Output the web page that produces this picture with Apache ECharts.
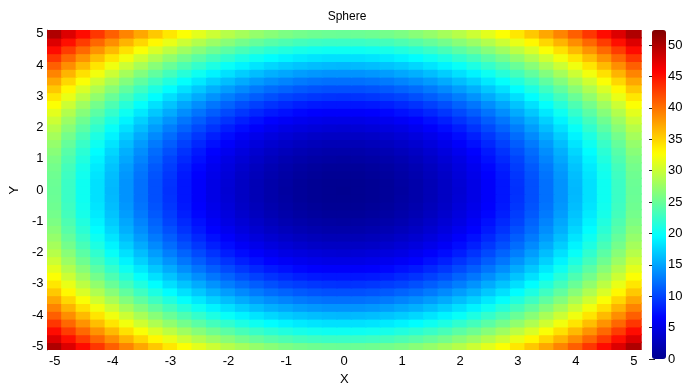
<!DOCTYPE html>
<html>
<head>
<meta charset="utf-8">
<script src="https://cdn.jsdelivr.net/npm/echarts@6/dist/echarts.min.js"></script>
<style>
  html, body { margin: 0; padding: 0; background: #fff; }
  #chart { width: 697px; height: 391px; }
</style>
</head>
<body>
<div id="chart"></div>
<script>
// cell centres along each axis (step 0.25, cells span -5.125 .. 5.125)
const xCats = ['-5','-4.75','-4.5','-4.25','-4','-3.75','-3.5','-3.25','-3','-2.75','-2.5','-2.25','-2','-1.75','-1.5','-1.25','-1','-0.75','-0.5','-0.25','0',
  '0.25','0.5','0.75','1','1.25','1.5','1.75','2','2.25','2.5','2.75','3','3.25','3.5','3.75','4','4.25','4.5','4.75','5'];
const yCats = xCats.slice();

// colorbar ticks
const barTicks = [0, 5, 10, 15, 20, 25, 30, 35, 40, 45, 50];
const zMin = 0;
const zMax = 52.4;

// surface values, row 0 = bottom (y = -5)
const zGrid = [
  [50,47.6,45.3,43.1,41,39.1,37.3,35.6,34,32.6,31.3,30.1,29,28.1,27.3,26.6,26,25.6,25.3,25.1,25,25.1,25.3,25.6,26,26.6,27.3,28.1,29,30.1,31.3,32.6,34,35.6,37.3,39.1,41,43.1,45.3,47.6,50],
  [47.6,45.1,42.8,40.6,38.6,36.6,34.8,33.1,31.6,30.1,28.8,27.6,26.6,25.6,24.8,24.1,23.6,23.1,22.8,22.6,22.6,22.6,22.8,23.1,23.6,24.1,24.8,25.6,26.6,27.6,28.8,30.1,31.6,33.1,34.8,36.6,38.6,40.6,42.8,45.1,47.6],
  [45.3,42.8,40.5,38.3,36.3,34.3,32.5,30.8,29.3,27.8,26.5,25.3,24.3,23.3,22.5,21.8,21.3,20.8,20.5,20.3,20.3,20.3,20.5,20.8,21.3,21.8,22.5,23.3,24.3,25.3,26.5,27.8,29.3,30.8,32.5,34.3,36.3,38.3,40.5,42.8,45.3],
  [43.1,40.6,38.3,36.1,34.1,32.1,30.3,28.6,27.1,25.6,24.3,23.1,22.1,21.1,20.3,19.6,19.1,18.6,18.3,18.1,18.1,18.1,18.3,18.6,19.1,19.6,20.3,21.1,22.1,23.1,24.3,25.6,27.1,28.6,30.3,32.1,34.1,36.1,38.3,40.6,43.1],
  [41,38.6,36.3,34.1,32,30.1,28.3,26.6,25,23.6,22.3,21.1,20,19.1,18.3,17.6,17,16.6,16.3,16.1,16,16.1,16.3,16.6,17,17.6,18.3,19.1,20,21.1,22.3,23.6,25,26.6,28.3,30.1,32,34.1,36.3,38.6,41],
  [39.1,36.6,34.3,32.1,30.1,28.1,26.3,24.6,23.1,21.6,20.3,19.1,18.1,17.1,16.3,15.6,15.1,14.6,14.3,14.1,14.1,14.1,14.3,14.6,15.1,15.6,16.3,17.1,18.1,19.1,20.3,21.6,23.1,24.6,26.3,28.1,30.1,32.1,34.3,36.6,39.1],
  [37.3,34.8,32.5,30.3,28.3,26.3,24.5,22.8,21.3,19.8,18.5,17.3,16.3,15.3,14.5,13.8,13.3,12.8,12.5,12.3,12.3,12.3,12.5,12.8,13.3,13.8,14.5,15.3,16.3,17.3,18.5,19.8,21.3,22.8,24.5,26.3,28.3,30.3,32.5,34.8,37.3],
  [35.6,33.1,30.8,28.6,26.6,24.6,22.8,21.1,19.6,18.1,16.8,15.6,14.6,13.6,12.8,12.1,11.6,11.1,10.8,10.6,10.6,10.6,10.8,11.1,11.6,12.1,12.8,13.6,14.6,15.6,16.8,18.1,19.6,21.1,22.8,24.6,26.6,28.6,30.8,33.1,35.6],
  [34,31.6,29.3,27.1,25,23.1,21.3,19.6,18,16.6,15.3,14.1,13,12.1,11.3,10.6,10,9.6,9.3,9.1,9,9.1,9.3,9.6,10,10.6,11.3,12.1,13,14.1,15.3,16.6,18,19.6,21.3,23.1,25,27.1,29.3,31.6,34],
  [32.6,30.1,27.8,25.6,23.6,21.6,19.8,18.1,16.6,15.1,13.8,12.6,11.6,10.6,9.8,9.1,8.6,8.1,7.8,7.6,7.6,7.6,7.8,8.1,8.6,9.1,9.8,10.6,11.6,12.6,13.8,15.1,16.6,18.1,19.8,21.6,23.6,25.6,27.8,30.1,32.6],
  [31.3,28.8,26.5,24.3,22.3,20.3,18.5,16.8,15.3,13.8,12.5,11.3,10.3,9.3,8.5,7.8,7.3,6.8,6.5,6.3,6.3,6.3,6.5,6.8,7.3,7.8,8.5,9.3,10.3,11.3,12.5,13.8,15.3,16.8,18.5,20.3,22.3,24.3,26.5,28.8,31.3],
  [30.1,27.6,25.3,23.1,21.1,19.1,17.3,15.6,14.1,12.6,11.3,10.1,9.1,8.1,7.3,6.6,6.1,5.6,5.3,5.1,5.1,5.1,5.3,5.6,6.1,6.6,7.3,8.1,9.1,10.1,11.3,12.6,14.1,15.6,17.3,19.1,21.1,23.1,25.3,27.6,30.1],
  [29,26.6,24.3,22.1,20,18.1,16.3,14.6,13,11.6,10.3,9.1,8,7.1,6.3,5.6,5,4.6,4.3,4.1,4,4.1,4.3,4.6,5,5.6,6.3,7.1,8,9.1,10.3,11.6,13,14.6,16.3,18.1,20,22.1,24.3,26.6,29],
  [28.1,25.6,23.3,21.1,19.1,17.1,15.3,13.6,12.1,10.6,9.3,8.1,7.1,6.1,5.3,4.6,4.1,3.6,3.3,3.1,3.1,3.1,3.3,3.6,4.1,4.6,5.3,6.1,7.1,8.1,9.3,10.6,12.1,13.6,15.3,17.1,19.1,21.1,23.3,25.6,28.1],
  [27.3,24.8,22.5,20.3,18.3,16.3,14.5,12.8,11.3,9.8,8.5,7.3,6.3,5.3,4.5,3.8,3.3,2.8,2.5,2.3,2.3,2.3,2.5,2.8,3.3,3.8,4.5,5.3,6.3,7.3,8.5,9.8,11.3,12.8,14.5,16.3,18.3,20.3,22.5,24.8,27.3],
  [26.6,24.1,21.8,19.6,17.6,15.6,13.8,12.1,10.6,9.1,7.8,6.6,5.6,4.6,3.8,3.1,2.6,2.1,1.8,1.6,1.6,1.6,1.8,2.1,2.6,3.1,3.8,4.6,5.6,6.6,7.8,9.1,10.6,12.1,13.8,15.6,17.6,19.6,21.8,24.1,26.6],
  [26,23.6,21.3,19.1,17,15.1,13.3,11.6,10,8.6,7.3,6.1,5,4.1,3.3,2.6,2,1.6,1.3,1.1,1,1.1,1.3,1.6,2,2.6,3.3,4.1,5,6.1,7.3,8.6,10,11.6,13.3,15.1,17,19.1,21.3,23.6,26],
  [25.6,23.1,20.8,18.6,16.6,14.6,12.8,11.1,9.6,8.1,6.8,5.6,4.6,3.6,2.8,2.1,1.6,1.1,0.8,0.6,0.6,0.6,0.8,1.1,1.6,2.1,2.8,3.6,4.6,5.6,6.8,8.1,9.6,11.1,12.8,14.6,16.6,18.6,20.8,23.1,25.6],
  [25.3,22.8,20.5,18.3,16.3,14.3,12.5,10.8,9.3,7.8,6.5,5.3,4.3,3.3,2.5,1.8,1.3,0.8,0.5,0.3,0.3,0.3,0.5,0.8,1.3,1.8,2.5,3.3,4.3,5.3,6.5,7.8,9.3,10.8,12.5,14.3,16.3,18.3,20.5,22.8,25.3],
  [25.1,22.6,20.3,18.1,16.1,14.1,12.3,10.6,9.1,7.6,6.3,5.1,4.1,3.1,2.3,1.6,1.1,0.6,0.3,0.1,0.1,0.1,0.3,0.6,1.1,1.6,2.3,3.1,4.1,5.1,6.3,7.6,9.1,10.6,12.3,14.1,16.1,18.1,20.3,22.6,25.1],
  [25,22.6,20.3,18.1,16,14.1,12.3,10.6,9,7.6,6.3,5.1,4,3.1,2.3,1.6,1,0.6,0.3,0.1,0,0.1,0.3,0.6,1,1.6,2.3,3.1,4,5.1,6.3,7.6,9,10.6,12.3,14.1,16,18.1,20.3,22.6,25],
  [25.1,22.6,20.3,18.1,16.1,14.1,12.3,10.6,9.1,7.6,6.3,5.1,4.1,3.1,2.3,1.6,1.1,0.6,0.3,0.1,0.1,0.1,0.3,0.6,1.1,1.6,2.3,3.1,4.1,5.1,6.3,7.6,9.1,10.6,12.3,14.1,16.1,18.1,20.3,22.6,25.1],
  [25.3,22.8,20.5,18.3,16.3,14.3,12.5,10.8,9.3,7.8,6.5,5.3,4.3,3.3,2.5,1.8,1.3,0.8,0.5,0.3,0.3,0.3,0.5,0.8,1.3,1.8,2.5,3.3,4.3,5.3,6.5,7.8,9.3,10.8,12.5,14.3,16.3,18.3,20.5,22.8,25.3],
  [25.6,23.1,20.8,18.6,16.6,14.6,12.8,11.1,9.6,8.1,6.8,5.6,4.6,3.6,2.8,2.1,1.6,1.1,0.8,0.6,0.6,0.6,0.8,1.1,1.6,2.1,2.8,3.6,4.6,5.6,6.8,8.1,9.6,11.1,12.8,14.6,16.6,18.6,20.8,23.1,25.6],
  [26,23.6,21.3,19.1,17,15.1,13.3,11.6,10,8.6,7.3,6.1,5,4.1,3.3,2.6,2,1.6,1.3,1.1,1,1.1,1.3,1.6,2,2.6,3.3,4.1,5,6.1,7.3,8.6,10,11.6,13.3,15.1,17,19.1,21.3,23.6,26],
  [26.6,24.1,21.8,19.6,17.6,15.6,13.8,12.1,10.6,9.1,7.8,6.6,5.6,4.6,3.8,3.1,2.6,2.1,1.8,1.6,1.6,1.6,1.8,2.1,2.6,3.1,3.8,4.6,5.6,6.6,7.8,9.1,10.6,12.1,13.8,15.6,17.6,19.6,21.8,24.1,26.6],
  [27.3,24.8,22.5,20.3,18.3,16.3,14.5,12.8,11.3,9.8,8.5,7.3,6.3,5.3,4.5,3.8,3.3,2.8,2.5,2.3,2.3,2.3,2.5,2.8,3.3,3.8,4.5,5.3,6.3,7.3,8.5,9.8,11.3,12.8,14.5,16.3,18.3,20.3,22.5,24.8,27.3],
  [28.1,25.6,23.3,21.1,19.1,17.1,15.3,13.6,12.1,10.6,9.3,8.1,7.1,6.1,5.3,4.6,4.1,3.6,3.3,3.1,3.1,3.1,3.3,3.6,4.1,4.6,5.3,6.1,7.1,8.1,9.3,10.6,12.1,13.6,15.3,17.1,19.1,21.1,23.3,25.6,28.1],
  [29,26.6,24.3,22.1,20,18.1,16.3,14.6,13,11.6,10.3,9.1,8,7.1,6.3,5.6,5,4.6,4.3,4.1,4,4.1,4.3,4.6,5,5.6,6.3,7.1,8,9.1,10.3,11.6,13,14.6,16.3,18.1,20,22.1,24.3,26.6,29],
  [30.1,27.6,25.3,23.1,21.1,19.1,17.3,15.6,14.1,12.6,11.3,10.1,9.1,8.1,7.3,6.6,6.1,5.6,5.3,5.1,5.1,5.1,5.3,5.6,6.1,6.6,7.3,8.1,9.1,10.1,11.3,12.6,14.1,15.6,17.3,19.1,21.1,23.1,25.3,27.6,30.1],
  [31.3,28.8,26.5,24.3,22.3,20.3,18.5,16.8,15.3,13.8,12.5,11.3,10.3,9.3,8.5,7.8,7.3,6.8,6.5,6.3,6.3,6.3,6.5,6.8,7.3,7.8,8.5,9.3,10.3,11.3,12.5,13.8,15.3,16.8,18.5,20.3,22.3,24.3,26.5,28.8,31.3],
  [32.6,30.1,27.8,25.6,23.6,21.6,19.8,18.1,16.6,15.1,13.8,12.6,11.6,10.6,9.8,9.1,8.6,8.1,7.8,7.6,7.6,7.6,7.8,8.1,8.6,9.1,9.8,10.6,11.6,12.6,13.8,15.1,16.6,18.1,19.8,21.6,23.6,25.6,27.8,30.1,32.6],
  [34,31.6,29.3,27.1,25,23.1,21.3,19.6,18,16.6,15.3,14.1,13,12.1,11.3,10.6,10,9.6,9.3,9.1,9,9.1,9.3,9.6,10,10.6,11.3,12.1,13,14.1,15.3,16.6,18,19.6,21.3,23.1,25,27.1,29.3,31.6,34],
  [35.6,33.1,30.8,28.6,26.6,24.6,22.8,21.1,19.6,18.1,16.8,15.6,14.6,13.6,12.8,12.1,11.6,11.1,10.8,10.6,10.6,10.6,10.8,11.1,11.6,12.1,12.8,13.6,14.6,15.6,16.8,18.1,19.6,21.1,22.8,24.6,26.6,28.6,30.8,33.1,35.6],
  [37.3,34.8,32.5,30.3,28.3,26.3,24.5,22.8,21.3,19.8,18.5,17.3,16.3,15.3,14.5,13.8,13.3,12.8,12.5,12.3,12.3,12.3,12.5,12.8,13.3,13.8,14.5,15.3,16.3,17.3,18.5,19.8,21.3,22.8,24.5,26.3,28.3,30.3,32.5,34.8,37.3],
  [39.1,36.6,34.3,32.1,30.1,28.1,26.3,24.6,23.1,21.6,20.3,19.1,18.1,17.1,16.3,15.6,15.1,14.6,14.3,14.1,14.1,14.1,14.3,14.6,15.1,15.6,16.3,17.1,18.1,19.1,20.3,21.6,23.1,24.6,26.3,28.1,30.1,32.1,34.3,36.6,39.1],
  [41,38.6,36.3,34.1,32,30.1,28.3,26.6,25,23.6,22.3,21.1,20,19.1,18.3,17.6,17,16.6,16.3,16.1,16,16.1,16.3,16.6,17,17.6,18.3,19.1,20,21.1,22.3,23.6,25,26.6,28.3,30.1,32,34.1,36.3,38.6,41],
  [43.1,40.6,38.3,36.1,34.1,32.1,30.3,28.6,27.1,25.6,24.3,23.1,22.1,21.1,20.3,19.6,19.1,18.6,18.3,18.1,18.1,18.1,18.3,18.6,19.1,19.6,20.3,21.1,22.1,23.1,24.3,25.6,27.1,28.6,30.3,32.1,34.1,36.1,38.3,40.6,43.1],
  [45.3,42.8,40.5,38.3,36.3,34.3,32.5,30.8,29.3,27.8,26.5,25.3,24.3,23.3,22.5,21.8,21.3,20.8,20.5,20.3,20.3,20.3,20.5,20.8,21.3,21.8,22.5,23.3,24.3,25.3,26.5,27.8,29.3,30.8,32.5,34.3,36.3,38.3,40.5,42.8,45.3],
  [47.6,45.1,42.8,40.6,38.6,36.6,34.8,33.1,31.6,30.1,28.8,27.6,26.6,25.6,24.8,24.1,23.6,23.1,22.8,22.6,22.6,22.6,22.8,23.1,23.6,24.1,24.8,25.6,26.6,27.6,28.8,30.1,31.6,33.1,34.8,36.6,38.6,40.6,42.8,45.1,47.6],
  [50,47.6,45.3,43.1,41,39.1,37.3,35.6,34,32.6,31.3,30.1,29,28.1,27.3,26.6,26,25.6,25.3,25.1,25,25.1,25.3,25.6,26,26.6,27.3,28.1,29,30.1,31.3,32.6,34,35.6,37.3,39.1,41,43.1,45.3,47.6,50]
];

const cellData = [];
zGrid.forEach((row, j) => {
  row.forEach((v, i) => cellData.push([i, j, v]));
});

const FONT = '"Liberation Sans", Arial, sans-serif';
const chart = echarts.init(document.getElementById('chart'));

// each cell is drawn slightly oversized so neighbours overlap (no hairline seams)
function renderCell(params, api) {
  const c = api.coord([api.value(0), api.value(1)]);
  const s = api.size([1, 1]);
  return {
    type: 'rect',
    shape: { x: c[0] - s[0] / 2 - 0.75, y: c[1] - s[1] / 2 - 0.75, width: s[0] + 1.5, height: s[1] + 1.5 },
    style: { fill: api.visual('color') }
  };
}

const option = {
  animation: false,
  backgroundColor: '#fff',
  textStyle: { fontFamily: FONT },
  title: {
    text: 'Sphere',
    left: 342,
    textAlign: 'center',
    top: 6,
    textStyle: { fontFamily: FONT, fontSize: 12, fontWeight: 'normal', color: '#000' }
  },
  grid: [
    { left: 43, top: 30, width: 598, height: 329 },
    { left: 652, top: 30, width: 14, height: 329 }
  ],
  xAxis: [
    {
      type: 'category',
      gridIndex: 0,
      data: xCats,
      name: 'X',
      nameLocation: 'middle',
      nameGap: 19,
      nameTextStyle: { fontFamily: FONT, fontSize: 13, color: '#000' },
      axisLine: { show: false },
      axisTick: { show: false },
      splitLine: { show: false },
      axisLabel: {
        interval: 3,
        margin: 5,
        fontFamily: FONT,
        fontSize: 13,
        color: '#000',
        formatter: v => String(Math.round(Number(v)))
      }
    },
    { type: 'value', gridIndex: 1, min: 0, max: 1, show: false }
  ],
  yAxis: [
    {
      type: 'category',
      gridIndex: 0,
      data: yCats,
      name: 'Y',
      nameLocation: 'middle',
      nameGap: 22,
      nameRotate: 90,
      nameTextStyle: { fontFamily: FONT, fontSize: 13, color: '#000' },
      axisLine: { show: true, lineStyle: { color: '#9a9a9a', type: 'dotted', width: 1 } },
      axisTick: { show: false },
      splitLine: { show: false },
      axisLabel: {
        interval: 3,
        margin: 4,
        fontFamily: FONT,
        fontSize: 13,
        color: '#000',
        formatter: v => String(Math.round(Number(v)))
      }
    },
    {
      type: 'value',
      gridIndex: 1,
      position: 'right',
      min: zMin,
      max: zMax,
      axisLine: { show: false },
      splitLine: { show: false },
      axisTick: {
        show: true,
        inside: true,
        length: 3,
        customValues: barTicks,
        lineStyle: { color: '#222', width: 1 }
      },
      axisLabel: {
        customValues: barTicks,
        margin: 2,
        fontFamily: FONT,
        fontSize: 13,
        color: '#000'
      }
    },
    {
      type: 'value',
      gridIndex: 1,
      position: 'left',
      min: zMin,
      max: zMax,
      axisLine: { show: false },
      splitLine: { show: false },
      axisLabel: { show: false },
      axisTick: {
        show: true,
        inside: true,
        length: 3,
        customValues: barTicks,
        lineStyle: { color: '#222', width: 1 }
      }
    }
  ],
  visualMap: {
    type: 'continuous',
    seriesIndex: 0,
    dimension: 2,
    min: zMin,
    max: zMax,
    calculable: false,
    hoverLink: false,
    orient: 'vertical',
    left: 652,
    top: 30,
    padding: 0,
    itemWidth: 14,
    itemHeight: 329,
    text: null,
    showLabel: false,
    inRange: {
      color: ['#00008F', '#0000FF', '#0080FF', '#00FFFF', '#80FF80', '#FFFF00', '#FF8000', '#FF0000', '#800000']
    }
  },
  series: [
    {
      type: 'custom',
      xAxisIndex: 0,
      yAxisIndex: 0,
      data: cellData,
      encode: { x: 0, y: 1 },
      clip: true,
      silent: true,
      renderItem: renderCell
    }
  ]
};

chart.setOption(option);
</script>
</body>
</html>
